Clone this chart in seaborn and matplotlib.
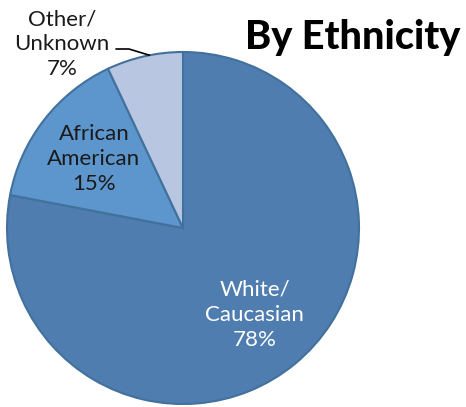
import numpy as np
import matplotlib
matplotlib.use("Agg")
import matplotlib.pyplot as plt
import seaborn as sns

categories = ["White/\nCaucasian", "African\nAmerican", "Other/\nUnknown"]
shares = [78, 15, 7]
colors = ["#4F7DAF", "#5D96CC", "#B8C6E2"]
text_colors = ["white", "#1a1a1a", "#1a1a1a"]
title = "By Ethnicity"

sns.set_theme(style="white")
plt.rcParams["font.family"] = ["Lato", "DejaVu Sans"]

W, H = 466, 407
fig = plt.figure(figsize=(W / 100, H / 100), dpi=100)
fig.patch.set_facecolor("white")
cx, cy, R = 183, 228, 176
ax = fig.add_axes([(cx - R) / W, (H - cy - R) / H, 2 * R / W, 2 * R / H])

wedges, _ = ax.pie(shares, colors=colors, startangle=90, counterclock=False,
                   wedgeprops=dict(edgecolor="#41719C", linewidth=1.5))
ax.set_xlim(-1, 1)
ax.set_ylim(-1, 1)
ax.set_aspect("equal")
ax.axis("off")

labels = [f"{c}\n{v}%" for c, v in zip(categories, shares)]
fs = 16
ls = 1.3
# inside labels for the two large slices
for i in range(2):
    w = wedges[i]
    mid = np.deg2rad((w.theta1 + w.theta2) / 2)
    r = 0.64
    ax.text(r * np.cos(mid), r * np.sin(mid), labels[i], ha="center", va="center",
            fontsize=fs, color=text_colors[i], linespacing=ls)

# outside label with leader line for the small slice
tip = (np.cos(np.deg2rad(101)), np.sin(np.deg2rad(101)))
ax.text((62 - cx) / R, (cy - 44) / R, labels[2], ha="center", va="center",
        fontsize=fs, color="#1a1a1a", linespacing=ls, clip_on=False)
ax.plot([(116 - cx) / R, (129 - cx) / R, tip[0]],
        [(cy - 49) / R, (cy - 49) / R, tip[1]],
        color="black", linewidth=1.2, clip_on=False)

fig.text(460 / W, 1 - 38 / H, title, ha="right", va="center",
         fontsize=28.5, fontweight="black", color="black")

fig.savefig("out.png", dpi=100, facecolor="white")
